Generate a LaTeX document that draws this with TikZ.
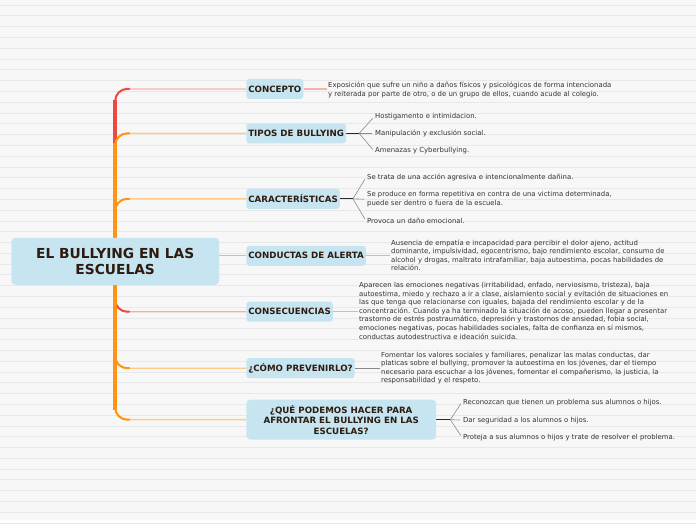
\documentclass[tikz,border=0pt]{standalone}
\usepackage{fontspec}
\setmainfont{DejaVu Sans}
\usetikzlibrary{calc}
\definecolor{bgc}{HTML}{F7F7F7}
\definecolor{rulec}{HTML}{E8E8E8}
\definecolor{nodeblue}{HTML}{C6E5F0}
\definecolor{tbrown}{HTML}{2E1B10}
\definecolor{btext}{HTML}{333333}
\definecolor{tred}{HTML}{EE4840}
\definecolor{torange}{HTML}{FF9414}
\definecolor{lred}{HTML}{F6B3AC}
\definecolor{lorange}{HTML}{FFCB86}
\definecolor{lsalmon}{HTML}{F7AE98}
\definecolor{darkline}{HTML}{2A2A2A}
\definecolor{fanc}{HTML}{8A8A8A}
\pgfdeclarelayer{bglayer}
\pgfdeclarelayer{connlayer}
\pgfsetlayers{bglayer,connlayer,main}
\newcommand\branch[4]{%
  \draw[#2, line width=1.3pt, rounded corners=12pt] (hub) -- (hub |- #3) -- (#3.west);
  \draw[#1, line width=2pt, rounded corners=12pt, line cap=round] (hub) -- (hub |- #3) -- ++(14,0);
  \draw[#1, line width=4pt] (hub) -- ($(hub |- #3)+(0,#4)$);
}
\begin{document}
\begin{tikzpicture}[x=1pt,y=-1pt,
  topic/.style={fill=nodeblue, rounded corners=3pt, text=tbrown, font=\bfseries\fontsize{8.7}{10.5}\selectfont, inner xsep=2pt, inner ysep=0pt, minimum height=20pt, anchor=west},
  mainnode/.style={fill=nodeblue, rounded corners=4pt, text=tbrown, font=\bfseries\fontsize{13.8}{16}\selectfont, align=center, minimum width=208pt, minimum height=47pt, inner sep=0pt},
  desc/.style={text=btext, font=\fontsize{6.9}{8.6}\selectfont, align=left, inner sep=1pt, anchor=west},
  lead/.style={line width=1.2pt},
  fan/.style={fanc, line width=0.6pt, shorten >=2pt}
]
\begin{pgfonlayer}{bglayer}
\fill[bgc] (0,0) rectangle (696,520);
\foreach \k in {0,...,48}{
  \pgfmathsetmacro\yy{5+10.8*\k}
  \draw[rulec, line width=0.6pt] (0,\yy) -- (696,\yy);
}
\end{pgfonlayer}
\useasboundingbox (0,0) rectangle (696,520);

% main topic
\node[mainnode] (main) at (115,261.5) {EL BULLYING EN LAS\\ESCUELAS};
\coordinate (hub) at (main.center);

% subtopics
\node[topic] (concepto) at (246,89) {CONCEPTO};
\node[topic] (tipos) at (246,133.5) {TIPOS DE BULLYING};
\node[topic] (caract) at (246,199) {CARACTERÍSTICAS};
\node[topic] (conductas) at (246,256) {CONDUCTAS DE ALERTA};
\node[topic] (consec) at (246,312) {CONSECUENCIAS};
\node[topic] (como) at (246,368.5) {¿CÓMO PREVENIRLO?};
\node[topic, align=center, minimum width=190pt, minimum height=40pt, rounded corners=4pt, font=\bfseries\fontsize{8.7}{10.5}\selectfont] (que) at (246,420) {¿QUÉ PODEMOS HACER PARA\\AFRONTAR EL BULLYING EN LAS\\ESCUELAS?};

% descriptions
\node[desc] (conceptoT) at (327,90) {Exposición que sufre un niño a daños físicos y psicológicos de forma intencionada\\y reiterada por parte de otro, o de un grupo de ellos, cuando acude al colegio.};

\coordinate (tiposF) at ($(tipos.east)+(13,0)$);
\node[desc] (t1) at (374,117) {Hostigamento e intimidacion.};
\node[desc] (t2) at (374,133.5) {Manipulación y exclusión social.};
\node[desc] (t3) at (374,151) {Amenazas y Cyberbullying.};

\coordinate (caractF) at ($(caract.east)+(13,0)$);
\node[desc] (c1) at (366,177.5) {Se trata de una acción agresiva e intencionalmente dañina.};
\node[desc] (c2) at (366,199.5) {Se produce en forma repetitiva en contra de una victima determinada,\\puede ser dentro o fuera de la escuela.};
\node[desc] (c3) at (366,221) {Provoca un daño emocional.};

\node[desc] (conductasT) at (390,255.5) {Ausencia de empatía e incapacidad para percibir el dolor ajeno, actitud\\dominante, impulsividad, egocentrismo, bajo rendimiento escolar, consumo de\\alcohol y drogas, maltrato intrafamiliar, baja autoestima, pocas habilidades de\\relación.};

\node[desc] (consecT) at (358,311) {Aparecen las emociones negativas (irritabilidad, enfado, nerviosismo, tristeza), baja\\autoestima, miedo y rechazo a ir a clase, aislamiento social y evitación de situaciones en\\las que tenga que relacionarse con iguales, bajada del rendimiento escolar y de la\\concentración. Cuando ya ha terminado la situación de acoso, pueden llegar a presentar\\trastorno de estrés postraumático, depresión y trastornos de ansiedad, fobia social,\\emociones negativas, pocas habilidades sociales, falta de confianza en sí mismos,\\conductas autodestructiva e ideación suicida.};

\node[desc] (comoT) at (380,368.5) {Fomentar los valores sociales y familiares, penalizar las malas conductas, dar\\platicas sobre el bullying, promover la autoestima en los jóvenes, dar el tiempo\\necesario para escuchar a los jóvenes, fomentar el compañerismo, la justicia, la\\responsabilidad y el respeto.};

\coordinate (queF) at ($(que.east)+(14,0)$);
\node[desc] (q1) at (462,402.5) {Reconozcan que tienen un problema sus alumnos o hijos.};
\node[desc] (q2) at (462,420.5) {Dar seguridad a los alumnos o hijos.};
\node[desc] (q3) at (462,437.5) {Proteja a sus alumnos o hijos y trate de resolver el problema.};

\begin{pgfonlayer}{connlayer}
% branches from the main topic
\branch{tred}{lred}{concepto}{11}
\branch{tred}{lsalmon}{consec}{-11}
\branch{torange}{lorange}{tipos}{10}
\branch{torange}{lorange}{caract}{10}
\branch{torange}{lorange}{como}{-10}
\branch{torange}{lorange}{que}{-10}
\draw[lsalmon, line width=1.3pt] (main.east |- conductas) -- (conductas.west);

% leads to descriptions
\draw[lred, lead] (concepto.east) -- (concepto.east -| conceptoT.west);
\draw[darkline, lead] (tipos.east) -- (tiposF);
\foreach \n in {t1,t2,t3} \draw[fan] (tiposF) -- (\n.west);
\draw[darkline, lead] (caract.east) -- (caractF);
\foreach \n in {c1,c2,c3} \draw[fan] (caractF) -- (\n.west);
\draw[lsalmon, lead] (conductas.east) -- (conductas.east -| conductasT.west);
\draw[lsalmon, lead] (consec.east) -- (consec.east -| consecT.west);
\draw[fanc, line width=0.9pt] (como.east) -- (como.east -| comoT.west);
\draw[darkline, lead] (que.east) -- (queF);
\foreach \n in {q1,q2,q3} \draw[fan] (queF) -- (\n.west);
\end{pgfonlayer}
\end{tikzpicture}
\end{document}
